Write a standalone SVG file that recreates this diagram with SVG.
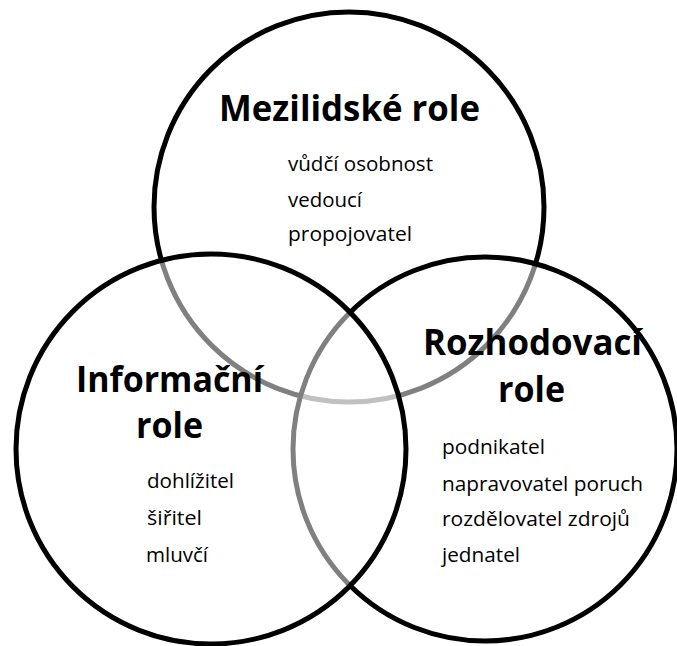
<svg xmlns="http://www.w3.org/2000/svg" width="677" height="646" viewBox="0 0 677 646">
<style>
.c{fill:#ffffff;fill-opacity:0.5;stroke:#000000;stroke-width:5}
.t{font-family:"Open Sans","Liberation Sans",sans-serif;font-weight:bold;font-size:36.5px;fill:#000000}
.b{font-family:"Open Sans","Liberation Sans",sans-serif;font-size:20.5px;fill:#000000}
</style>
<rect width="677" height="646" fill="#ffffff"/>
<g id="mezilidske">
<circle class="c" cx="349" cy="207" r="195"/>
<text class="t" x="219" y="121" textLength="261" lengthAdjust="spacingAndGlyphs">Mezilidské role</text>
<text class="b" x="288" y="171" textLength="145" lengthAdjust="spacingAndGlyphs">vůdčí osobnost</text>
<text class="b" x="288" y="206.5" textLength="74" lengthAdjust="spacingAndGlyphs">vedoucí</text>
<text class="b" x="288" y="241" textLength="124" lengthAdjust="spacingAndGlyphs">propojovatel</text>
</g>
<g id="rozhodovaci">
<circle class="c" cx="485" cy="449" r="192"/>
<text class="t" x="423" y="355" textLength="219" lengthAdjust="spacingAndGlyphs">Rozhodovací</text>
<text class="t" x="498" y="402" textLength="67" lengthAdjust="spacingAndGlyphs">role</text>
<text class="b" x="442" y="454" textLength="103" lengthAdjust="spacingAndGlyphs">podnikatel</text>
<text class="b" x="442" y="490.5" textLength="201" lengthAdjust="spacingAndGlyphs">napravovatel poruch</text>
<text class="b" x="442" y="526" textLength="188" lengthAdjust="spacingAndGlyphs">rozdělovatel zdrojů</text>
<text class="b" x="442" y="562" textLength="78" lengthAdjust="spacingAndGlyphs">jednatel</text>
</g>
<g id="informacni">
<circle class="c" cx="211" cy="449" r="195"/>
<text class="t" x="76" y="392" textLength="187" lengthAdjust="spacingAndGlyphs">Informační</text>
<text class="t" x="136" y="438" textLength="67" lengthAdjust="spacingAndGlyphs">role</text>
<text class="b" x="147" y="488" textLength="87" lengthAdjust="spacingAndGlyphs">dohlížitel</text>
<text class="b" x="147" y="525" textLength="55" lengthAdjust="spacingAndGlyphs">šiřitel</text>
<text class="b" x="146" y="562" textLength="62" lengthAdjust="spacingAndGlyphs">mluvčí</text>
</g>
</svg>
